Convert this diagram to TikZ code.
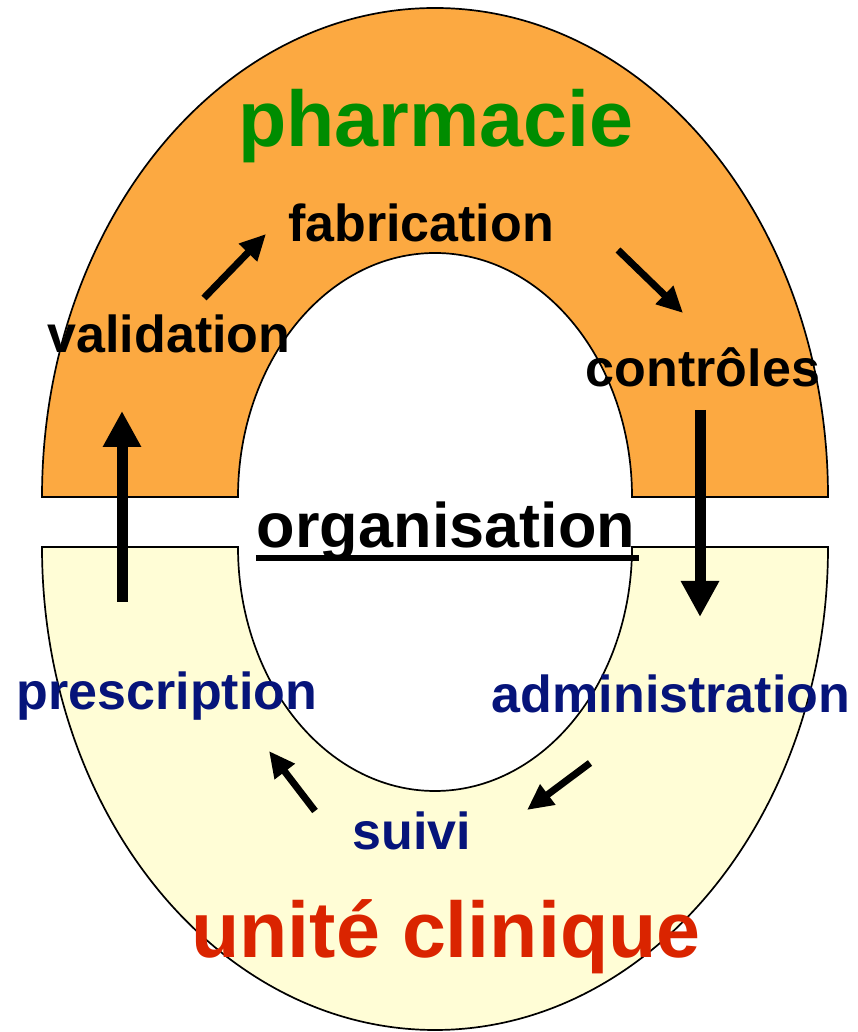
\documentclass[tikz,border=0pt]{standalone}
\usepackage{fontspec}
\setmainfont{Liberation Sans}
\usetikzlibrary{arrows.meta}

\definecolor{pharmaorange}{RGB}{252,169,65}
\definecolor{cliniqueyellow}{RGB}{255,253,214}
\definecolor{titlegreen}{RGB}{0,140,0}
\definecolor{stepnavy}{RGB}{6,20,122}
\definecolor{titlered}{RGB}{218,36,0}

\tikzset{
  ring/.style={draw=black, line width=1.7pt},
  label52/.style={anchor=base, inner sep=0pt, font=\bfseries\fontsize{52}{60}\selectfont},
  bigtitle/.style={anchor=base, inner sep=0pt, font=\bfseries\fontsize{79}{90}\selectfont},
  smallarrow/.style={line width=7pt, -{Triangle[length=26pt,width=24pt]}},
  bigarrow/.style={line width=11pt, -{Triangle[length=36pt,width=36pt]}},
}

\begin{document}
\begin{tikzpicture}[x=1pt,y=1pt]
\useasboundingbox (0,0) rectangle (858,1032);

% upper half ring: pharmacie
\path[ring, fill=pharmaorange]
  (42,535) arc[start angle=180, end angle=0, x radius=393, y radius=489]
  -- (632,535) arc[start angle=0, end angle=180, x radius=197, y radius=244]
  -- cycle;

% lower half ring: unite clinique
\path[ring, fill=cliniqueyellow]
  (42,485) arc[start angle=180, end angle=360, x radius=393, y radius=483]
  -- (632,485) arc[start angle=0, end angle=-180, x radius=197, y radius=244]
  -- cycle;

% titles
\node[bigtitle, text=titlegreen] (pharma) at (436,885) {pharmacie};
\node[bigtitle, text=titlered] (unite) at (446,74) {unité clinique};

% steps of the circuit
\node[label52] (fab) at (421,790) {fabrication};
\node[label52] (valid) at (169,679) {validation};
\node[label52] (ctrl) at (703,645) {contrôles};
\node[label52, text=stepnavy] (presc) at (167,322) {prescription};
\node[label52, text=stepnavy] (admin) at (671,319) {administration};
\node[label52, text=stepnavy] (suivi) at (412,182) {suivi};

% centre label
\node[anchor=base, inner sep=0pt, font=\bfseries\fontsize{63}{72}\selectfont] (org) at (446,484) {organisation};
\draw[line width=6pt] ([xshift=-1pt,yshift=-10pt]org.base west) -- ([xshift=4pt,yshift=-10pt]org.base east);

% arrow end points
\coordinate (a1s) at (204,734);
\coordinate (a1e) at (266,798);
\coordinate (a2s) at (618,782);
\coordinate (a2e) at (683,719);
\coordinate (a3s) at (700,622);
\coordinate (a3e) at (700,415);
\coordinate (a4s) at (122,430);
\coordinate (a4e) at (122,621);
\coordinate (a5s) at (590,269);
\coordinate (a5e) at (527,222);
\coordinate (a6s) at (315,221);
\coordinate (a6e) at (269,281);

% circuit arrows
\draw[smallarrow] (a1s) -- (a1e);
\draw[smallarrow] (a2s) -- (a2e);
\draw[bigarrow] (a3s) -- (a3e);
\draw[bigarrow] (a4s) -- (a4e);
\draw[smallarrow] (a5s) -- (a5e);
\draw[smallarrow] (a6s) -- (a6e);
\end{tikzpicture}
\end{document}
